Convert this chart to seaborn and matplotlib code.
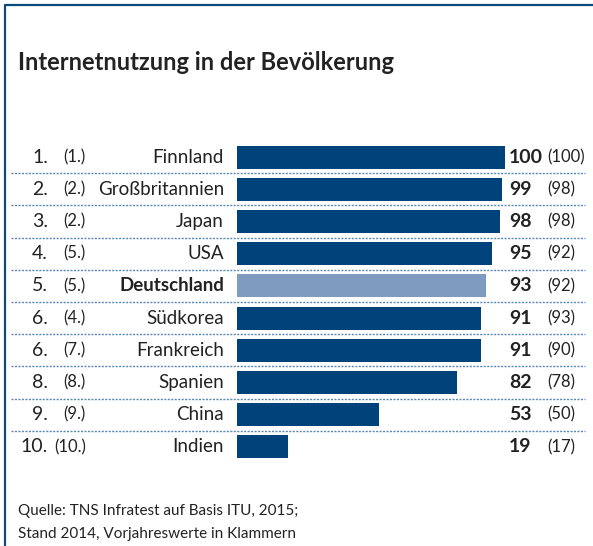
import pandas as pd
import seaborn as sns
import matplotlib.pyplot as plt
import matplotlib.transforms as mtransforms
from matplotlib.lines import Line2D

# data
ranks = ['1.', '2.', '3.', '4.', '5.', '6.', '6.', '8.', '9.', '10.']
prev_ranks = ['(1.)', '(2.)', '(2.)', '(5.)', '(5.)', '(4.)', '(7.)', '(8.)', '(9.)', '(10.)']
countries = ['Finnland', 'Großbritannien', 'Japan', 'USA', 'Deutschland',
             'Südkorea', 'Frankreich', 'Spanien', 'China', 'Indien']
values = [100, 99, 98, 95, 93, 91, 91, 82, 53, 19]
prev_values = [100, 98, 98, 92, 92, 93, 90, 78, 50, 17]

df = pd.DataFrame({'land': countries, 'wert': values})

W, H = 593, 546
dark = '#00427a'
light = '#7f9cc0'
txt = '#222222'

sns.set_theme(style='white')
plt.rcParams['font.family'] = ['Lato', 'DejaVu Sans']

fig = plt.figure(figsize=(W / 100, H / 100), dpi=100)

# bar area in pixels: x 237..505 for 0..100, rows 141..463
ax = fig.add_axes([237 / W, (H - 463) / H, 268 / W, 322 / H])
palette = [light if c == 'Deutschland' else dark for c in countries]
sns.barplot(data=df, x='wert', y='land', hue='land', palette=palette,
            legend=False, width=0.71, ax=ax, saturation=1, linewidth=0)
ax.set_xlim(0, 100)
ax.set_ylim(9.5, -0.5)
ax.set_axis_off()

tr = mtransforms.blended_transform_factory(fig.transFigure, ax.transData)

for i in range(len(countries)):
    bold = 'bold' if countries[i] == 'Deutschland' else 'normal'
    ax.text(48 / W, i, ranks[i], transform=tr, ha='right', va='center',
            fontsize=14, color=txt)
    ax.text(86 / W, i, prev_ranks[i], transform=tr, ha='right', va='center',
            fontsize=12, color=txt)
    ax.text(224 / W, i, countries[i], transform=tr, ha='right', va='center',
            fontsize=13.5, color=txt, fontweight=bold)
    ax.text(509 / W, i, str(values[i]), transform=tr, ha='left', va='center',
            fontsize=14, color=txt, fontweight='bold')
    ax.text(547 / W, i, '(%d)' % prev_values[i], transform=tr, ha='left',
            va='center', fontsize=12, color=txt)

# dotted separators between rows
for i in range(len(countries) - 1):
    ax.plot([11 / W, 585 / W], [i + 0.5, i + 0.5], transform=tr, clip_on=False,
            color='#5a88b5', lw=1, ls=(0, (1.5, 1)))

# frame (top and left)
fig.add_artist(Line2D([4.5 / W, 4.5 / W, 1], [0, 1 - 4.5 / H, 1 - 4.5 / H],
                      transform=fig.transFigure, color='#0b4a7c', lw=1.6))

fig.text(18 / W, 1 - 62 / H, 'Internetnutzung in der Bevölkerung',
         ha='left', va='center', fontsize=17, fontweight='bold', color=txt)
fig.text(18 / W, 1 - 511 / H, 'Quelle: TNS Infratest auf Basis ITU, 2015;',
         ha='left', va='center', fontsize=11, color=txt)
fig.text(18 / W, 1 - 534 / H, 'Stand 2014, Vorjahreswerte in Klammern',
         ha='left', va='center', fontsize=11, color=txt)

fig.savefig('out.png', dpi=100, facecolor='white')
